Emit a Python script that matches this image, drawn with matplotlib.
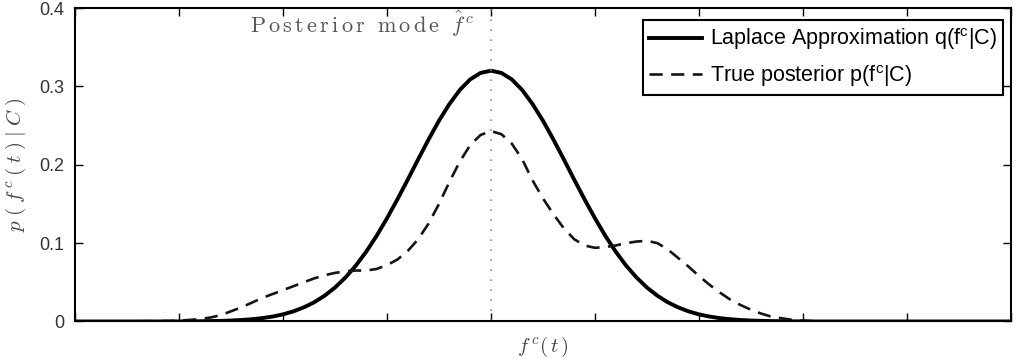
"""Laplace approximation vs. true posterior (MATLAB-style figure)."""

import matplotlib
matplotlib.use("Agg")
import matplotlib.pyplot as plt

plt.rcParams["font.family"] = ["Liberation Sans", "DejaVu Sans"]
plt.rcParams["mathtext.fontset"] = "custom"
plt.rcParams["mathtext.rm"] = "Liberation Sans"
plt.rcParams["mathtext.it"] = "Liberation Sans:italic"

# values (x in units of f^c(t), mode at 0)
x_vals = [-4.0, -3.6,
          -3.2, -3.1, -3.0, -2.9, -2.8, -2.7, -2.6, -2.5, -2.4, -2.3,
          -2.2, -2.1, -2.0, -1.9, -1.8, -1.7, -1.6, -1.5, -1.4, -1.3,
          -1.2, -1.1, -1.0, -0.9, -0.8, -0.7, -0.6, -0.5, -0.4, -0.3,
          -0.2, -0.1, 0.0, 0.1, 0.2, 0.3, 0.4, 0.5, 0.6, 0.7,
          0.8, 0.9, 1.0, 1.1, 1.2, 1.3, 1.4, 1.5, 1.6, 1.7,
          1.8, 1.9, 2.0, 2.1, 2.2, 2.3, 2.4, 2.5, 2.6, 2.7,
          2.8, 2.9, 3.0, 3.1, 3.2,
          3.6, 4.0, 4.5, 5.0]
laplace = [0.0, 0.0,
           0.0, 0.0, 0.0001, 0.0002, 0.0003, 0.0005, 0.0008, 0.0012, 0.0019, 0.0029,
           0.0043, 0.0063, 0.0091, 0.0129, 0.0180, 0.0245, 0.0329, 0.0433, 0.0561, 0.0712,
           0.0890, 0.1092, 0.1317, 0.1558, 0.1811, 0.2070, 0.2323, 0.2562, 0.2774, 0.2954,
           0.3089, 0.3172, 0.3200, 0.3172, 0.3089, 0.2954, 0.2774, 0.2562, 0.2323, 0.2070,
           0.1811, 0.1558, 0.1317, 0.1092, 0.0890, 0.0712, 0.0561, 0.0433, 0.0329, 0.0245,
           0.0180, 0.0129, 0.0091, 0.0063, 0.0043, 0.0029, 0.0019, 0.0012, 0.0008, 0.0005,
           0.0003, 0.0002, 0.0001, 0.0, 0.0,
           0.0, 0.0, 0.0, 0.0]
true_post = [0.0, 0.0,
             0.0005, 0.0007, 0.001, 0.002, 0.003, 0.005, 0.008, 0.013, 0.018, 0.024,
             0.030, 0.035, 0.040, 0.045, 0.050, 0.055, 0.059, 0.062, 0.064, 0.065,
             0.065, 0.067, 0.072, 0.079, 0.090, 0.105, 0.125, 0.150, 0.178, 0.204,
             0.225, 0.238, 0.243, 0.239, 0.227, 0.207, 0.180, 0.157, 0.137, 0.119,
             0.105, 0.097, 0.094, 0.095, 0.097, 0.100, 0.102, 0.103, 0.100, 0.092,
             0.081, 0.070, 0.058, 0.047, 0.037, 0.028, 0.021, 0.015, 0.010, 0.006,
             0.004, 0.002, 0.001, 0.0005, 0.0,
             0.0, 0.0, 0.0, 0.0]
mode = 0.0
y_ticks = [0, 0.1, 0.2, 0.3, 0.4]
y_ticklabels = ["0", "0.1", "0.2", "0.3", "0.4"]
x_ticks = [-4, -3, -2, -1, 0, 1, 2, 3, 4, 5]

fig = plt.figure(figsize=(10.19, 3.59), dpi=100)
ax = fig.add_axes([0.0736, 0.1045, 0.9185, 0.8732])

ax.plot(x_vals, laplace, color="black", linewidth=2.8,
        label=r"Laplace Approximation q(f$^\mathrm{c}$|C)")
ax.plot(x_vals, true_post, color="#151515", linewidth=1.9, dashes=(5, 3.2),
        label=r"True posterior p(f$^\mathrm{c}$|C)")
ax.axvline(mode, color="#8c8c8c", linewidth=1.2, linestyle=(0, (1, 5)))

ax.set_xlim(-4, 5)
ax.set_ylim(0, 0.4)
ax.set_yticks(y_ticks)
ax.set_yticklabels(y_ticklabels)
ax.set_xticks(x_ticks)
ax.set_xticklabels([])
ax.tick_params(direction="in", length=6, width=1.0, top=True, right=True,
               labelsize=13, labelcolor="#333333", pad=8)
for s in ax.spines.values():
    s.set_linewidth(1.5)

ax.text(-0.16, 0.368,
        r"$\mathrm{P\,o\,s\,t\,e\,r\,i\,o\,r\ \ m\,o\,d\,e}\ \ \hat{f}^{\,c}$",
        ha="right", va="baseline", fontsize=16, color="#555555",
        math_fontfamily="cm")

ax.set_ylabel(r"$p\;(\;f^{\,c}\;(\;t\;)\;|\;C\;)$", fontsize=15,
              color="#444444", math_fontfamily="cm")
ax.yaxis.set_label_coords(-0.063, 0.5)
ax.yaxis.label.set_va("center")

ax.set_xlabel(r"$f^{\,c}(\,t\,)$", fontsize=15, color="#444444",
              math_fontfamily="cm")
ax.xaxis.set_label_coords(0.5, -0.081)
ax.xaxis.label.set_va("center")

leg = ax.legend(loc="upper right", bbox_to_anchor=(0.9915, 0.9617),
                fontsize=15.5, labelspacing=0.5, borderpad=0.3,
                handlelength=2.45, handletextpad=0.35, fancybox=False,
                framealpha=1.0, edgecolor="black", borderaxespad=0)
leg.get_frame().set_linewidth(1.5)

fig.savefig("out.png", dpi=100)
